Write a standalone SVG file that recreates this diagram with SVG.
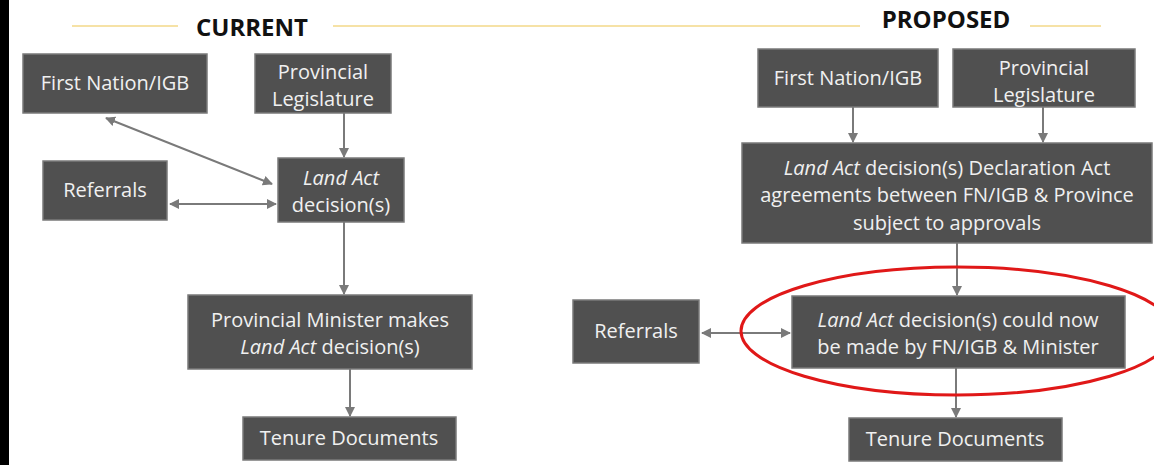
<svg xmlns="http://www.w3.org/2000/svg" width="1154" height="465" viewBox="0 0 1154 465">
  <style>
    .box { fill: #505050; stroke: #7a7a7a; stroke-width: 1.5; }
    .lbl { font-family: "Open Sans", "Noto Sans", "Liberation Sans", sans-serif; font-size: 20px; fill: #f0f0f0; text-anchor: middle; }
    .it { font-style: italic; }
    .head { font-family: "Open Sans", "Noto Sans", "Liberation Sans", sans-serif; font-size: 24px; font-weight: bold; fill: #111; text-anchor: middle; }
    .rule { stroke: #f6e2a6; stroke-width: 2; fill: none; }
    .conn { stroke: #7a7a7a; stroke-width: 2; fill: none; }
  </style>
  <defs>
    <marker id="arrow" viewBox="0 0 10 10" refX="9" refY="5" markerWidth="5" markerHeight="5" orient="auto-start-reverse" markerUnits="strokeWidth">
      <path d="M0,0 L10,5 L0,10 z" fill="#7a7a7a"/>
    </marker>
  </defs>

  <rect width="1154" height="465" fill="#ffffff"/>
  <rect x="0" y="0" width="9" height="465" fill="#000000"/>

  <!-- section headings -->
  <g id="headings">
    <line class="rule" x1="72" y1="26" x2="178" y2="26"/>
    <line class="rule" x1="333" y1="26" x2="860" y2="26"/>
    <line class="rule" x1="1030" y1="26" x2="1101" y2="26"/>
    <text class="head" x="252" y="36">CURRENT</text>
    <text class="head" x="946" y="28">PROPOSED</text>
  </g>

  <!-- connectors -->
  <g id="connectors">
    <line class="conn" x1="106" y1="118" x2="272" y2="184" marker-start="url(#arrow)" marker-end="url(#arrow)"/>
    <line class="conn" x1="344" y1="113" x2="344" y2="157" marker-end="url(#arrow)"/>
    <line class="conn" x1="170" y1="204" x2="276" y2="204" marker-start="url(#arrow)" marker-end="url(#arrow)"/>
    <line class="conn" x1="344" y1="222" x2="344" y2="294" marker-end="url(#arrow)"/>
    <line class="conn" x1="350" y1="369" x2="350" y2="416" marker-end="url(#arrow)"/>

    <line class="conn" x1="853" y1="107" x2="853" y2="142" marker-end="url(#arrow)"/>
    <line class="conn" x1="1043" y1="107" x2="1043" y2="142" marker-end="url(#arrow)"/>
    <line class="conn" x1="957" y1="243" x2="957" y2="295" marker-end="url(#arrow)"/>
    <line class="conn" x1="702" y1="333" x2="790" y2="333" marker-start="url(#arrow)" marker-end="url(#arrow)"/>
    <line class="conn" x1="956" y1="368" x2="956" y2="417" marker-end="url(#arrow)"/>
  </g>

  <!-- current process -->
  <g id="cur-first-nation">
    <rect class="box" x="23" y="54" width="184" height="59"/>
    <text class="lbl" x="115" y="90">First Nation/IGB</text>
  </g>
  <g id="cur-legislature">
    <rect class="box" x="255" y="54" width="136" height="59"/>
    <text class="lbl" x="323" y="79">Provincial</text>
    <text class="lbl" x="323" y="106">Legislature</text>
  </g>
  <g id="cur-referrals">
    <rect class="box" x="43" y="161" width="124" height="59"/>
    <text class="lbl" x="105" y="197">Referrals</text>
  </g>
  <g id="cur-land-act">
    <rect class="box" x="278" y="158" width="126" height="64"/>
    <text class="lbl it" x="341" y="185">Land Act</text>
    <text class="lbl" x="341" y="212">decision(s)</text>
  </g>
  <g id="cur-minister">
    <rect class="box" x="188" y="295" width="284" height="74"/>
    <text class="lbl" x="330" y="327">Provincial Minister makes</text>
    <text class="lbl" x="330" y="354"><tspan class="it">Land Act</tspan> decision(s)</text>
  </g>
  <g id="cur-tenure">
    <rect class="box" x="243" y="417" width="213" height="43"/>
    <text class="lbl" x="349" y="445">Tenure Documents</text>
  </g>

  <!-- proposed process -->
  <g id="pro-first-nation">
    <rect class="box" x="758" y="49" width="180" height="58"/>
    <text class="lbl" x="848" y="85">First Nation/IGB</text>
  </g>
  <g id="pro-legislature">
    <rect class="box" x="953" y="49" width="182" height="58"/>
    <text class="lbl" x="1044" y="75">Provincial</text>
    <text class="lbl" x="1044" y="102">Legislature</text>
  </g>
  <g id="pro-agreements">
    <rect class="box" x="742" y="143" width="410" height="100"/>
    <text class="lbl" x="947" y="175"><tspan class="it">Land Act</tspan> decision(s) Declaration Act</text>
    <text class="lbl" x="947" y="202">agreements between FN/IGB &amp; Province</text>
    <text class="lbl" x="947" y="230">subject to approvals</text>
  </g>
  <g id="pro-referrals">
    <rect class="box" x="573" y="300" width="126" height="63"/>
    <text class="lbl" x="636" y="338">Referrals</text>
  </g>
  <g id="pro-joint-decision">
    <rect class="box" x="792" y="296" width="333" height="72"/>
    <text class="lbl" x="958" y="327"><tspan class="it">Land Act</tspan> decision(s) could now</text>
    <text class="lbl" x="958" y="354">be made by FN/IGB &amp; Minister</text>
  </g>
  <g id="pro-tenure">
    <rect class="box" x="849" y="418" width="213" height="43"/>
    <text class="lbl" x="955" y="446">Tenure Documents</text>
  </g>

  <!-- highlight around the joint decision -->
  <ellipse id="highlight" cx="957" cy="331" rx="216" ry="64" fill="none" stroke="#e01818" stroke-width="3"/>
</svg>
